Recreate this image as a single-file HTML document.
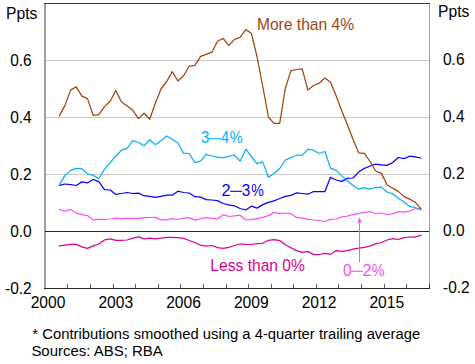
<!DOCTYPE html>
<html><head><meta charset="utf-8">
<style>
html,body{margin:0;padding:0;background:#fff;width:475px;height:364px;overflow:hidden}
svg{position:absolute;left:0;top:0}
text{font-family:"Liberation Sans", sans-serif;font-size:16px}
</style></head><body>
<svg width="475" height="364" viewBox="0 0 475 364">
<g fill="#c8c8c8">
<rect x="46" y="60" width="383" height="1"/>
<rect x="46" y="117" width="383" height="1"/>
<rect x="46" y="174" width="383" height="1"/>
</g>
<g fill="#a0a0a0">
<rect x="44" y="3" width="2" height="285"/>
<rect x="429" y="3" width="1" height="285"/>
</g>
<rect x="45" y="231" width="384" height="1" fill="#262626"/>
<rect x="44" y="3" width="386" height="1" fill="#383838"/>
<rect x="44" y="288" width="386" height="1" fill="#262626"/>
<g fill="#606060"><rect x="67" y="284" width="1" height="4"/><rect x="90" y="284" width="1" height="4"/><rect x="113" y="284" width="1" height="4"/><rect x="135" y="284" width="1" height="4"/><rect x="158" y="284" width="1" height="4"/><rect x="180" y="284" width="1" height="4"/><rect x="203" y="284" width="1" height="4"/><rect x="226" y="284" width="1" height="4"/><rect x="248" y="284" width="1" height="4"/><rect x="271" y="284" width="1" height="4"/><rect x="293" y="284" width="1" height="4"/><rect x="316" y="284" width="1" height="4"/><rect x="338" y="284" width="1" height="4"/><rect x="361" y="284" width="1" height="4"/><rect x="384" y="284" width="1" height="4"/><rect x="406" y="284" width="1" height="4"/><rect x="429" y="284" width="1" height="4"/></g><rect x="429" y="284" width="1" height="4" fill="#333"/>
<g fill="none" stroke-width="1.25" stroke-linejoin="round" stroke-linecap="round">
<path d="M59.3 245.9 L65.0 245.2 L70.6 244.4 L76.2 244.4 L81.9 246.9 L87.5 248.4 L93.2 245.9 L98.8 244.0 L104.5 239.9 L110.2 238.8 L115.8 240.3 L121.5 240.3 L127.1 240.0 L132.8 238.1 L138.4 236.9 L144.1 238.8 L149.7 238.1 L155.4 238.8 L161.0 238.1 L166.7 237.4 L172.3 237.4 L177.9 237.7 L183.6 238.4 L189.2 240.5 L194.9 242.5 L200.6 245.2 L206.2 246.2 L211.9 245.5 L217.5 247.7 L223.2 248.4 L228.8 247.4 L234.4 245.5 L240.1 244.0 L245.8 244.4 L251.4 244.5 L257.1 243.7 L262.7 243.3 L268.4 240.3 L274.0 239.6 L279.7 240.6 L285.3 244.7 L290.9 247.7 L296.6 250.6 L302.2 252.4 L307.9 251.4 L313.6 254.6 L319.2 254.5 L324.9 253.3 L330.5 254.3 L336.2 250.6 L341.8 251.4 L347.5 250.6 L353.1 249.2 L358.8 248.1 L364.4 247.4 L370.1 245.9 L375.7 243.8 L381.4 242.5 L387.0 240.0 L392.7 238.6 L398.3 239.5 L404.0 237.6 L409.6 237.0 L415.3 237.0 L420.9 235.1" stroke="#da0096"/>
<path d="M59.3 209.3 L65.0 211.2 L70.6 209.4 L76.2 213.1 L81.9 214.6 L87.5 215.6 L93.2 220.1 L98.8 219.3 L104.5 219.3 L110.2 219.0 L115.8 218.1 L121.5 218.6 L127.1 218.3 L132.8 218.3 L138.4 218.3 L144.1 217.6 L149.7 217.5 L155.4 217.4 L161.0 219.9 L166.7 219.9 L172.3 218.7 L177.9 219.5 L183.6 218.1 L189.2 217.6 L194.9 220.2 L200.6 218.7 L206.2 217.7 L211.9 218.4 L217.5 218.9 L223.2 214.7 L228.8 216.5 L234.4 215.8 L240.1 215.2 L245.8 219.9 L251.4 219.7 L257.1 218.6 L262.7 217.4 L268.4 215.6 L274.0 212.4 L279.7 213.7 L285.3 213.0 L290.9 213.7 L296.6 217.4 L302.2 218.1 L307.9 219.3 L313.6 220.0 L319.2 220.5 L324.9 221.5 L330.5 219.3 L336.2 219.0 L341.8 216.8 L347.5 216.1 L353.1 214.4 L358.8 213.4 L364.4 212.4 L370.1 211.7 L375.7 213.5 L381.4 213.0 L387.0 214.5 L392.7 213.9 L398.3 211.6 L404.0 212.1 L409.6 211.2 L415.3 208.7 L420.9 208.7" stroke="#f850f8"/>
<path d="M59.3 185.3 L65.0 184.0 L70.6 184.7 L76.2 185.5 L81.9 181.9 L87.5 182.8 L93.2 179.5 L98.8 181.6 L104.5 189.6 L110.2 190.0 L115.8 194.4 L121.5 193.5 L127.1 192.5 L132.8 193.5 L138.4 193.1 L144.1 195.7 L149.7 196.3 L155.4 197.4 L161.0 196.3 L166.7 195.2 L172.3 195.2 L177.9 191.2 L183.6 192.5 L189.2 193.0 L194.9 196.7 L200.6 197.1 L206.2 199.6 L211.9 200.0 L217.5 200.6 L223.2 203.5 L228.8 204.8 L234.4 205.8 L240.1 208.5 L245.8 210.0 L251.4 206.2 L257.1 208.1 L262.7 204.6 L268.4 202.3 L274.0 200.8 L279.7 198.5 L285.3 196.3 L290.9 195.4 L296.6 192.9 L302.2 193.5 L307.9 194.2 L313.6 191.5 L319.2 191.5 L324.9 191.5 L330.5 177.3 L336.2 180.0 L341.8 181.4 L347.5 178.4 L353.1 178.0 L358.8 171.8 L364.4 168.4 L370.1 166.0 L375.7 164.2 L381.4 164.8 L387.0 165.4 L392.7 162.5 L398.3 157.5 L404.0 158.6 L409.6 156.2 L415.3 156.8 L420.9 158.0" stroke="#0a00ff"/>
<path d="M59.3 184.9 L65.0 175.4 L70.6 170.4 L76.2 168.3 L81.9 168.8 L87.5 173.9 L93.2 175.4 L98.8 178.5 L104.5 169.4 L110.2 162.7 L115.8 156.0 L121.5 150.2 L127.1 148.3 L132.8 140.6 L138.4 142.5 L144.1 145.8 L149.7 139.8 L155.4 144.7 L161.0 140.4 L166.7 136.0 L172.3 139.3 L177.9 143.0 L183.6 153.1 L189.2 153.5 L194.9 162.7 L200.6 161.1 L206.2 154.4 L211.9 156.0 L217.5 157.2 L223.2 157.7 L228.8 156.4 L234.4 155.0 L240.1 161.2 L245.8 149.2 L251.4 156.5 L257.1 163.8 L262.7 161.9 L268.4 177.3 L274.0 173.5 L279.7 168.5 L285.3 160.0 L290.9 157.7 L296.6 155.0 L302.2 155.4 L307.9 149.2 L313.6 150.2 L319.2 153.5 L324.9 151.5 L330.5 168.1 L336.2 170.4 L341.8 175.9 L347.5 181.0 L353.1 185.5 L358.8 189.2 L364.4 187.6 L370.1 189.2 L375.7 187.5 L381.4 187.1 L387.0 192.0 L392.7 193.8 L398.3 198.2 L404.0 202.1 L409.6 206.3 L415.3 207.5 L420.9 210.0" stroke="#08aefa"/>
<path d="M59.3 115.9 L65.0 105.4 L70.6 90.1 L76.2 86.8 L81.9 96.1 L87.5 98.6 L93.2 115.3 L98.8 114.7 L104.5 106.6 L110.2 101.3 L115.8 90.5 L121.5 102.0 L127.1 106.0 L132.8 110.3 L138.4 118.6 L144.1 113.2 L149.7 119.2 L155.4 103.0 L161.0 89.0 L166.7 81.5 L172.3 71.6 L177.9 81.0 L183.6 75.7 L189.2 66.3 L194.9 65.3 L200.6 56.3 L206.2 54.3 L211.9 52.2 L217.5 41.2 L223.2 38.3 L228.8 45.6 L234.4 39.4 L240.1 37.4 L245.8 29.6 L251.4 33.4 L257.1 57.0 L262.7 86.0 L268.4 117.0 L274.0 123.3 L279.7 123.3 L285.3 88.5 L290.9 70.6 L296.6 69.5 L302.2 68.8 L307.9 89.9 L313.6 85.5 L319.2 83.2 L324.9 78.0 L330.5 82.2 L336.2 96.0 L341.8 111.0 L347.5 125.0 L353.1 139.4 L358.8 152.9 L364.4 153.3 L370.1 161.5 L375.7 171.0 L381.4 173.4 L387.0 184.8 L392.7 188.2 L398.3 191.4 L404.0 196.6 L409.6 199.1 L415.3 202.3 L420.9 208.6" stroke="#a4420c"/>
</g>
<rect x="359" y="220.5" width="1.05" height="41.5" fill="#f850f8"/>
<path d="M357.2 222.6 L359.5 217.2 L361.8 222.6 Z" fill="#f850f8"/>
<g fill="#000">
<text transform="translate(31.7 65.6) scale(0.967 1)" text-anchor="end">0.6</text><text transform="translate(443 65.3) scale(0.967 1)">0.6</text>
<text transform="translate(31.7 122.6) scale(0.967 1)" text-anchor="end">0.4</text><text transform="translate(443 122.3) scale(0.967 1)">0.4</text>
<text transform="translate(31.7 179.6) scale(0.967 1)" text-anchor="end">0.2</text><text transform="translate(443 179.3) scale(0.967 1)">0.2</text>
<text transform="translate(31.7 236.6) scale(0.967 1)" text-anchor="end">0.0</text><text transform="translate(443 236.3) scale(0.967 1)">0.0</text>
<text transform="translate(31.7 293.6) scale(0.967 1)" text-anchor="end">-0.2</text><text transform="translate(443 293.3) scale(0.967 1)">-0.2</text>
<text transform="translate(48.00 308) scale(0.975 1)" text-anchor="middle">2000</text>
<text transform="translate(115.76 308) scale(0.975 1)" text-anchor="middle">2003</text>
<text transform="translate(183.52 308) scale(0.975 1)" text-anchor="middle">2006</text>
<text transform="translate(251.28 308) scale(0.975 1)" text-anchor="middle">2009</text>
<text transform="translate(319.04 308) scale(0.975 1)" text-anchor="middle">2012</text>
<text transform="translate(386.80 308) scale(0.975 1)" text-anchor="middle">2015</text>

</g>
<text transform="translate(6.10 18.90) scale(0.978 1.000)" style="font-size:16px" fill="#000">Ppts</text>
<text transform="translate(438.11 16.50) scale(0.975 1.000)" style="font-size:16px" fill="#000">Ppts</text>
<text transform="translate(256.90 29.68) scale(0.977 1.000)" style="font-size:16px" fill="#9c4812">More than 4%</text>
<text transform="translate(210.36 270.88) scale(0.976 1.000)" style="font-size:16px" fill="#da0096">Less than 0%</text>
<text transform="translate(32.36 339.00) scale(0.956 1.000)" style="font-size:15.5px" fill="#000">* Contributions smoothed using a 4-quarter trailing average</text>
<text transform="translate(31.38 355.70) scale(0.966 1.000)" style="font-size:15.5px" fill="#000">Sources: ABS; RBA</text>
<text transform="translate(201.01 143.30) scale(0.944 1)" fill="#08aefa">3</text><text transform="translate(220.96 143.30) scale(0.913 1)" fill="#08aefa">4</text><text transform="translate(229.83 143.30) scale(0.908 1)" fill="#08aefa">%</text><rect x="209.10" y="138.10" width="11.90" height="1.1" fill="#08aefa"/>
<text transform="translate(221.54 195.60) scale(1.017 1)" fill="#0a00ff">2</text><text transform="translate(241.70 195.60) scale(0.957 1)" fill="#0a00ff">3</text><text transform="translate(251.15 195.60) scale(0.885 1)" fill="#0a00ff">%</text><rect x="230.10" y="190.75" width="12.10" height="1.1" fill="#0a00ff"/>
<text transform="translate(342.99 275.60) scale(0.970 1)" fill="#f850f8">0</text><text transform="translate(362.54 275.60) scale(1.017 1)" fill="#f850f8">2</text><text transform="translate(371.83 275.60) scale(0.908 1)" fill="#f850f8">%</text><rect x="351.30" y="270.75" width="11.70" height="1.1" fill="#f850f8"/>

</svg>
</body></html>
